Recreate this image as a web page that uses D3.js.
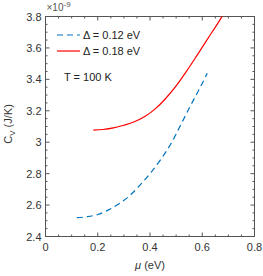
<!DOCTYPE html>
<html><head><meta charset="utf-8">
<script src="https://cdn.jsdelivr.net/npm/d3@7"></script>
<style>body{margin:0;background:#fff;} text{font-family:"Liberation Sans",Arial,sans-serif;}</style>
</head><body>
<svg id="c" width="263" height="276"></svg>
<script>
const xTicks = [0, 0.2, 0.4, 0.6, 0.8];
const yTicks = [2.4, 2.6, 2.8, 3.0, 3.2, 3.4, 3.6, 3.8];
const seriesNames = ["Δ = 0.12 eV", "Δ = 0.18 eV"];
const mu012 = [0.12, 0.16, 0.20, 0.24, 0.28, 0.32, 0.36, 0.40, 0.44, 0.48, 0.52, 0.553, 0.59, 0.619];
const cv012 = [2.52, 2.526, 2.54, 2.568, 2.607, 2.656, 2.724, 2.80, 2.888, 2.99, 3.118, 3.226, 3.342, 3.438];
const mu018 = [0.183, 0.22, 0.26, 0.30, 0.34, 0.38, 0.42, 0.46, 0.50, 0.54, 0.58, 0.62, 0.66, 0.676];
const cv018 = [3.077, 3.081, 3.091, 3.108, 3.130, 3.163, 3.212, 3.278, 3.358, 3.452, 3.553, 3.656, 3.758, 3.80];

const svg = d3.select("#c");
const m = {l: 45.5, r: 254.5, t: 16.5, b: 236.5};
const x = d3.scaleLinear().domain([0, 0.8]).range([m.l, m.r]);
const y = d3.scaleLinear().domain([2.4, 3.8]).range([m.b, m.t]);
const axisCol = "#555";
const minorX = d3.range(0, 0.8001, 0.05);
const minorY = d3.range(2.4, 3.8001, 0.05);

const g = svg.append("g");
g.append("rect").attr("x", m.l).attr("y", m.t).attr("width", m.r - m.l).attr("height", m.b - m.t)
  .attr("fill", "none").attr("stroke", axisCol).attr("stroke-width", 1);
minorX.forEach(v => {
  const isMajor = Math.abs(v * 5 - Math.round(v * 5)) < 1e-6;
  const L = isMajor ? 4 : 2;
  g.append("line").attr("x1", x(v)).attr("x2", x(v)).attr("y1", m.b).attr("y2", m.b - L).attr("stroke", axisCol);
  g.append("line").attr("x1", x(v)).attr("x2", x(v)).attr("y1", m.t).attr("y2", m.t + L).attr("stroke", axisCol);
});
minorY.forEach(v => {
  const isMajor = Math.abs(v * 5 - Math.round(v * 5)) < 1e-6;
  const L = isMajor ? 4 : 2;
  g.append("line").attr("y1", y(v)).attr("y2", y(v)).attr("x1", m.l).attr("x2", m.l + L).attr("stroke", axisCol);
  g.append("line").attr("y1", y(v)).attr("y2", y(v)).attr("x1", m.r).attr("x2", m.r - L).attr("stroke", axisCol);
});
const fmt = d => d === 0 ? "0" : d3.format(".1f")(d);
xTicks.forEach(v => {
  g.append("text").attr("x", x(v)).attr("y", m.b + 14).attr("text-anchor", "middle")
    .attr("font-size", 11).attr("fill", "#333").text(fmt(v));
});
yTicks.forEach(v => {
  g.append("text").attr("x", m.l - 4).attr("y", y(v) + 4).attr("text-anchor", "end")
    .attr("font-size", 11).attr("fill", "#333").text(Math.abs(v - 3) < 1e-9 ? "3" : d3.format(".1f")(v));
});
const ex = g.append("text").attr("x", m.l + 1).attr("y", 11).attr("font-size", 10).attr("fill", "#555");
ex.append("tspan").text("×10");
ex.append("tspan").attr("dy", -4).attr("font-size", 8).text("-9");
const xl = g.append("text").attr("x", (m.l + m.r) / 2).attr("y", 269).attr("text-anchor", "middle")
  .attr("font-size", 11).attr("fill", "#333");
xl.append("tspan").attr("font-style", "italic").text("μ");
xl.append("tspan").text(" (eV)");
const yl = g.append("text").attr("transform", `translate(12,124) rotate(-90)`)
  .attr("text-anchor", "middle").attr("font-size", 11).attr("fill", "#333");
yl.append("tspan").text("C");
yl.append("tspan").attr("dy", 3).attr("font-size", 8).text("V");
yl.append("tspan").attr("dy", -3).text(" (J/K)");

const line = d3.line().x(d => x(d[0])).y(d => y(d[1])).curve(d3.curveMonotoneX);
const d1 = mu012.map((v, i) => [v, cv012[i]]);
const d2 = mu018.map((v, i) => [v, cv018[i]]);
svg.append("path").attr("d", line(d1)).attr("fill", "none").attr("stroke", "#0072bd")
  .attr("stroke-width", 1.2).attr("stroke-dasharray", "6,4");
svg.append("path").attr("d", line(d2)).attr("fill", "none").attr("stroke", "#ff0000")
  .attr("stroke-width", 1.2);

const leg = [{c: "#0072bd", dash: "6,4", y: 35}, {c: "#ff0000", dash: null, y: 51}];
leg.forEach((l, i) => {
  svg.append("line").attr("x1", 57).attr("x2", 80).attr("y1", l.y).attr("y2", l.y)
    .attr("stroke", l.c).attr("stroke-width", 1.2).attr("stroke-dasharray", l.dash);
  svg.append("text").attr("x", 83).attr("y", l.y + 4).attr("font-size", 11).attr("fill", "#222").text(seriesNames[i]);
});
svg.append("text").attr("x", 64).attr("y", 81).attr("font-size", 11).attr("fill", "#222").text("T = 100 K");
</script>
</body></html>
